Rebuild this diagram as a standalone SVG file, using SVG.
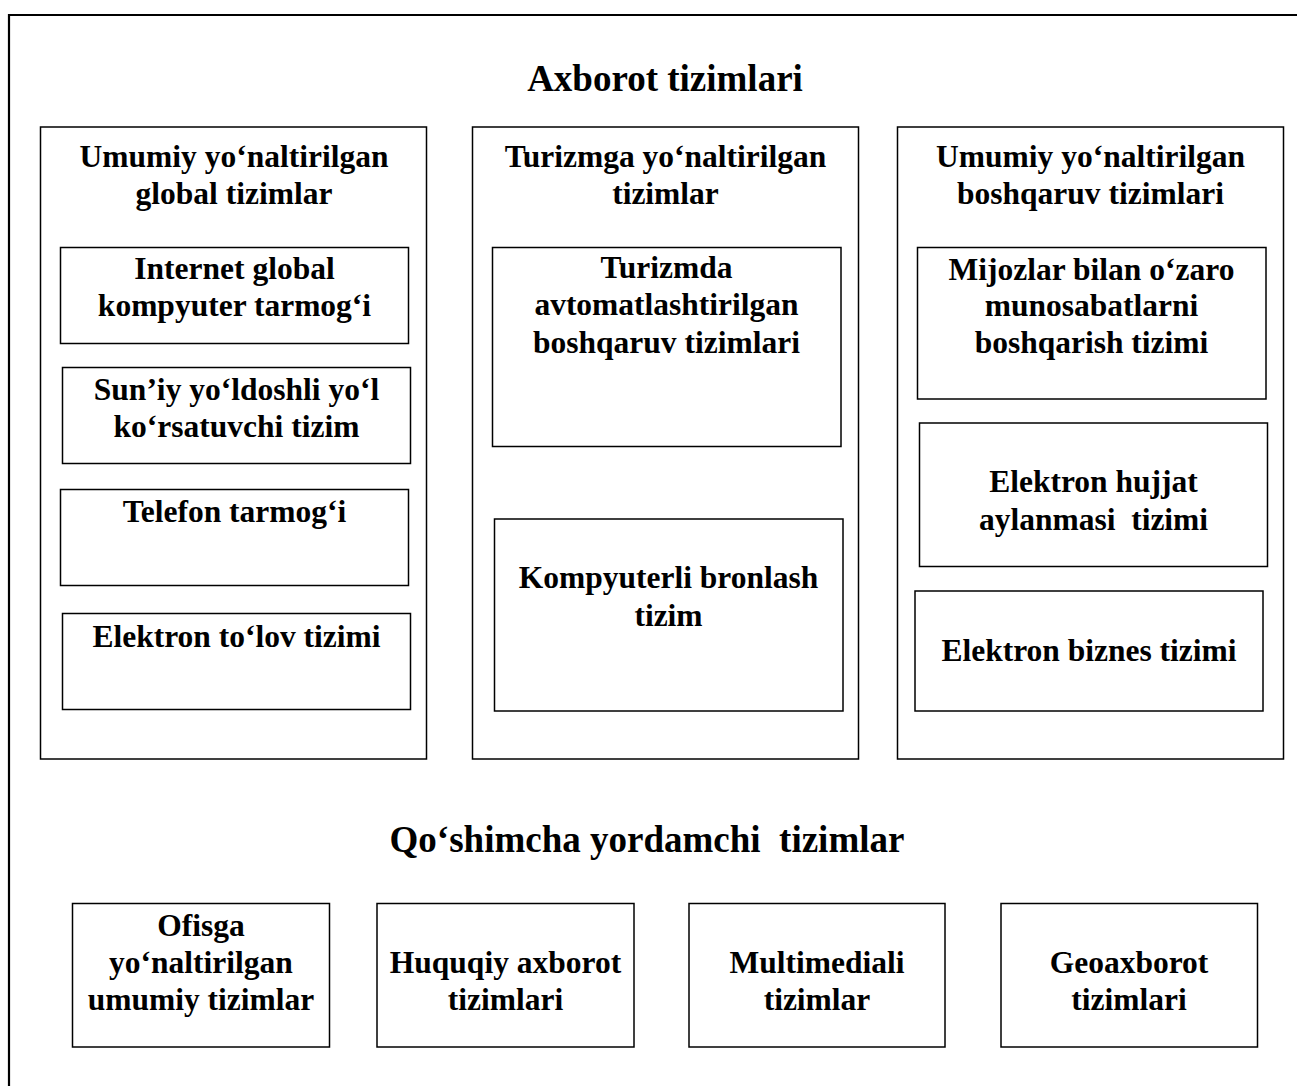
<svg xmlns="http://www.w3.org/2000/svg" width="1297" height="1086" viewBox="0 0 1297 1086" xml:space="preserve">
<style>
.box{fill:#fff;stroke:#000;stroke-width:1.5}
.frame{fill:none;stroke:#000;stroke-width:2.2}
text{font-family:"Liberation Serif","Times New Roman",serif;font-weight:bold;fill:#000;text-anchor:middle;white-space:pre}
.t{font-size:31.5px}
.h{font-size:37px}
</style>
<rect width="1297" height="1086" fill="#fff"/>
<path class="frame" d="M9,1090 V15 H1300"/>
<text class="h" x="665" y="91">Axborot tizimlari</text>
<g id="col-global">
<rect class="box" x="40.5" y="127" width="386" height="632"/>
<text class="t" x="234" y="167">Umumiy yo‘naltirilgan</text>
<text class="t" x="234" y="204">global tizimlar</text>
</g>
<g id="internet">
<rect class="box" x="60.5" y="247.5" width="348" height="96"/>
<text class="t" x="234.5" y="279">Internet global</text>
<text class="t" x="234.5" y="316">kompyuter tarmog‘i</text>
</g>
<g id="suniy">
<rect class="box" x="62.5" y="367.5" width="348" height="96"/>
<text class="t" x="236.5" y="400">Sun’iy yo‘ldoshli yo‘l</text>
<text class="t" x="236.5" y="437">ko‘rsatuvchi tizim</text>
</g>
<g id="telefon">
<rect class="box" x="60.5" y="489.5" width="348" height="96"/>
<text class="t" x="234.5" y="522">Telefon tarmog‘i</text>
</g>
<g id="tolov">
<rect class="box" x="62.5" y="613.5" width="348" height="96"/>
<text class="t" x="236.5" y="647">Elektron to‘lov tizimi</text>
</g>
<g id="col-turizm">
<rect class="box" x="472.5" y="127" width="386" height="632"/>
<text class="t" x="665.5" y="167">Turizmga yo‘naltirilgan</text>
<text class="t" x="665.5" y="204">tizimlar</text>
</g>
<g id="avtomat">
<rect class="box" x="492.5" y="247.5" width="348.5" height="199"/>
<text class="t" x="666.5" y="278">Turizmda</text>
<text class="t" x="666.5" y="315">avtomatlashtirilgan</text>
<text class="t" x="666.5" y="353">boshqaruv tizimlari</text>
</g>
<g id="bronlash">
<rect class="box" x="494.5" y="519" width="348.5" height="192"/>
<text class="t" x="668.5" y="588">Kompyuterli bronlash</text>
<text class="t" x="668.5" y="626">tizim</text>
</g>
<g id="col-boshqaruv">
<rect class="box" x="897.5" y="127" width="386" height="632"/>
<text class="t" x="1090.5" y="167">Umumiy yo‘naltirilgan</text>
<text class="t" x="1090.5" y="204">boshqaruv tizimlari</text>
</g>
<g id="mijozlar">
<rect class="box" x="917.5" y="247.5" width="348.5" height="151.5"/>
<text class="t" x="1091.5" y="280">Mijozlar bilan o‘zaro</text>
<text class="t" x="1091.5" y="316">munosabatlarni</text>
<text class="t" x="1091.5" y="353">boshqarish tizimi</text>
</g>
<g id="hujjat">
<rect class="box" x="919.5" y="423" width="348" height="143.5"/>
<text class="t" x="1093.5" y="492">Elektron hujjat</text>
<text class="t" x="1093.5" y="530">aylanmasi  tizimi</text>
</g>
<g id="biznes">
<rect class="box" x="915" y="591" width="348" height="120"/>
<text class="t" x="1089" y="661">Elektron biznes tizimi</text>
</g>
<text class="h" x="647" y="852">Qo‘shimcha yordamchi  tizimlar</text>
<g id="ofis">
<rect class="box" x="72.5" y="903.5" width="257" height="143.5"/>
<text class="t" x="201" y="936">Ofisga</text>
<text class="t" x="201" y="973">yo‘naltirilgan</text>
<text class="t" x="201" y="1010">umumiy tizimlar</text>
</g>
<g id="huquqiy">
<rect class="box" x="377" y="903.5" width="257" height="143.5"/>
<text class="t" x="505.5" y="973">Huquqiy axborot</text>
<text class="t" x="505.5" y="1010">tizimlari</text>
</g>
<g id="multimedia">
<rect class="box" x="689" y="903.5" width="256" height="143.5"/>
<text class="t" x="817" y="973">Multimediali</text>
<text class="t" x="817" y="1010">tizimlar</text>
</g>
<g id="geo">
<rect class="box" x="1001" y="903.5" width="256.5" height="143.5"/>
<text class="t" x="1129" y="973">Geoaxborot</text>
<text class="t" x="1129" y="1010">tizimlari</text>
</g>
<g id="connectors"></g>
</svg>
